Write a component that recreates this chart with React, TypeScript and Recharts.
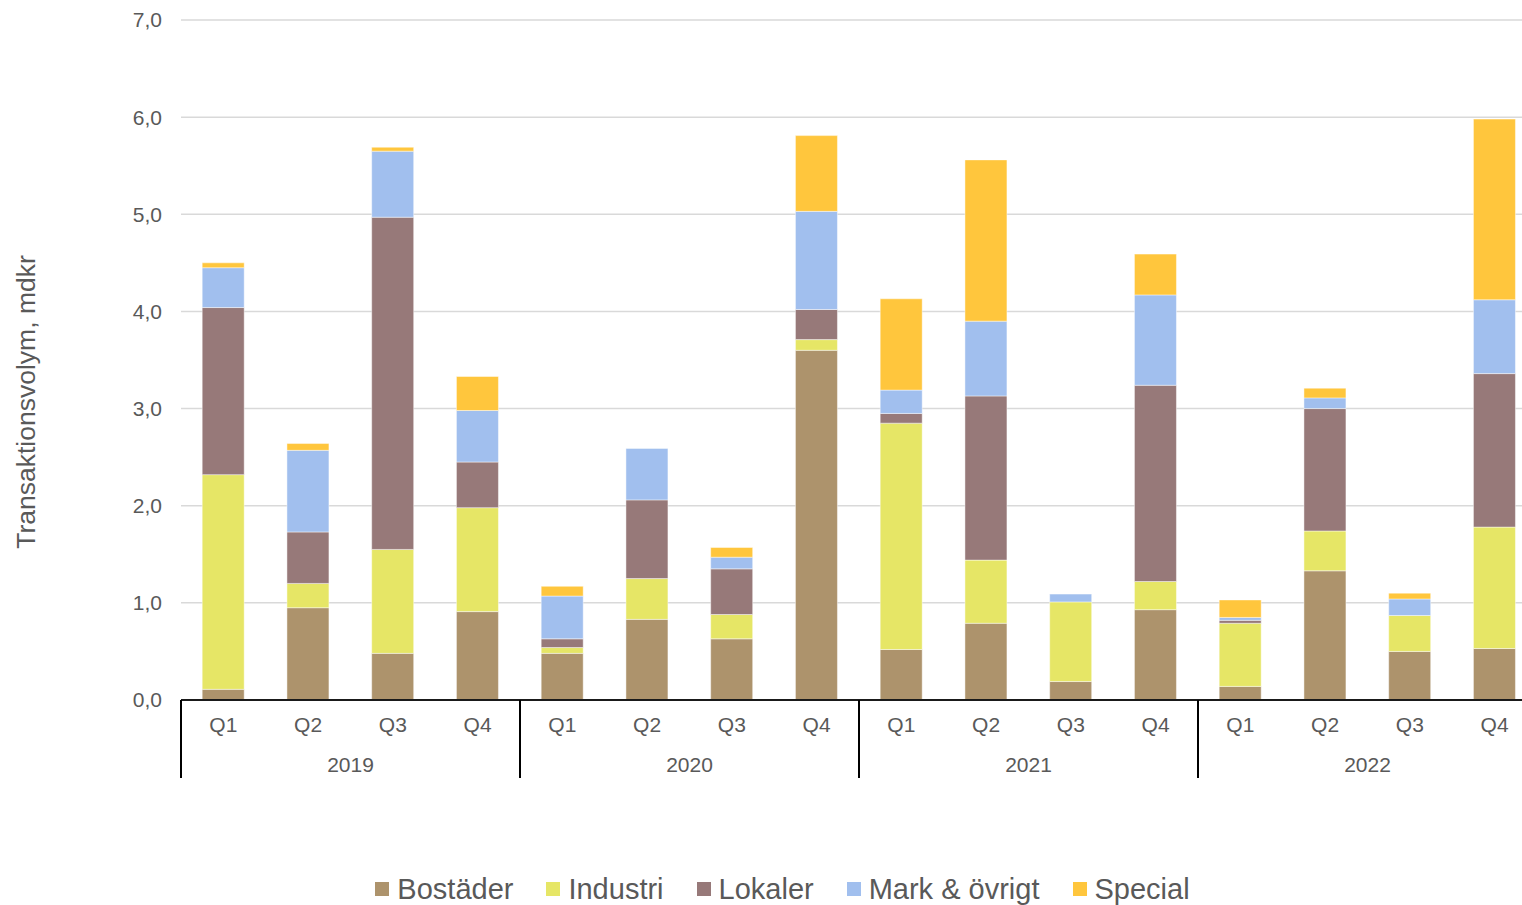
import { Bar, BarChart, CartesianGrid, Legend, XAxis, YAxis } from 'recharts';

if (typeof document !== 'undefined') {
  document.body.style.margin = '0';
}

const years = ['2019', '2020', '2021', '2022'];
const quarters = ['Q1', 'Q2', 'Q3', 'Q4'];

// Transaction volume per quarter, bn SEK, 2019 Q1 .. 2022 Q4
const bostader = [0.11, 0.95, 0.48, 0.91, 0.48, 0.83, 0.63, 3.6, 0.52, 0.79, 0.19, 0.93, 0.14, 1.33, 0.5, 0.53];
const industri = [2.21, 0.25, 1.07, 1.07, 0.06, 0.42, 0.25, 0.11, 2.33, 0.65, 0.82, 0.29, 0.65, 0.41, 0.37, 1.25];
const lokaler = [1.72, 0.53, 3.42, 0.47, 0.09, 0.81, 0.47, 0.31, 0.1, 1.69, 0, 2.02, 0.03, 1.26, 0, 1.58];
const mark = [0.41, 0.84, 0.68, 0.53, 0.44, 0.53, 0.12, 1.01, 0.24, 0.77, 0.08, 0.93, 0.03, 0.11, 0.17, 0.76];
const special = [0.05, 0.07, 0.04, 0.35, 0.1, 0, 0.1, 0.78, 0.94, 1.66, 0, 0.42, 0.18, 0.1, 0.06, 1.86];

const yTicks = [0, 1, 2, 3, 4, 5, 6, 7];

const series = [
  { key: 'bostader', name: 'Bostäder', color: '#AD936C', values: bostader },
  { key: 'industri', name: 'Industri', color: '#E6E666', values: industri },
  { key: 'lokaler', name: 'Lokaler', color: '#977979', values: lokaler },
  { key: 'mark', name: 'Mark & övrigt', color: '#A1BFEE', values: mark },
  { key: 'special', name: 'Special', color: '#FFC63D', values: special },
];

const data = years.flatMap((year, yi) =>
  quarters.map((quarter, qi) => {
    const i = yi * 4 + qi;
    const row: Record<string, string | number> = { id: `${year} ${quarter}`, year, quarter };
    series.forEach(s => {
      row[s.key] = s.values[i];
    });
    return row;
  }),
);

const CHART_WIDTH = 1540;
const CHART_HEIGHT = 905;
const MARGIN = { top: 20, right: 3, bottom: 125, left: 0 };
const Y_AXIS_WIDTH = 181;
const SLOT = (CHART_WIDTH - MARGIN.left - MARGIN.right - Y_AXIS_WIDTH) / data.length;
const FONT = '"Liberation Sans", Arial, sans-serif';
const TEXT_COLOR = '#595959';

function QuarterTick(props: any) {
  const { x, y, index } = props;
  const row = data[index];
  const first = index % 4 === 0;
  const last = index === data.length - 1;
  return (
    <g>
      <text x={x} y={y + 32} textAnchor="middle" fontSize={21} fill={TEXT_COLOR} fontFamily={FONT}>
        {row.quarter}
      </text>
      {index % 4 === 1 && (
        <text x={x + SLOT / 2} y={y + 72} textAnchor="middle" fontSize={21} fill={TEXT_COLOR} fontFamily={FONT}>
          {row.year}
        </text>
      )}
      {first && <line x1={x - SLOT / 2} x2={x - SLOT / 2} y1={y} y2={y + 78} stroke="#000" strokeWidth={2} />}
      {last && <line x1={x + SLOT / 2} x2={x + SLOT / 2} y1={y} y2={y + 78} stroke="#000" strokeWidth={2} />}
    </g>
  );
}

function AxisTitle(props: any) {
  const { viewBox } = props;
  const cx = viewBox.x + 26;
  const cy = viewBox.y + 382;
  return (
    <text
      x={cx}
      y={cy}
      transform={`rotate(-90 ${cx} ${cy})`}
      textAnchor="middle"
      dominantBaseline="central"
      fontSize={26.5}
      fill={TEXT_COLOR}
      fontFamily={FONT}
    >
      Transaktionsvolym, mdkr
    </text>
  );
}

function LegendContent() {
  return (
    <div style={{ display: 'flex', justifyContent: 'center', gap: 33, fontFamily: FONT }}>
      {series.map(s => (
        <div key={s.key} style={{ display: 'flex', alignItems: 'center', gap: 8 }}>
          <span style={{ width: 14, height: 14, background: s.color, display: 'inline-block' }} />
          <span style={{ fontSize: 29, color: TEXT_COLOR, lineHeight: '34px' }}>{s.name}</span>
        </div>
      ))}
    </div>
  );
}

export default function App() {
  return (
    <div style={{ width: 1522, height: 905, overflow: 'hidden', background: '#fff' }}>
      <BarChart width={CHART_WIDTH} height={CHART_HEIGHT} data={data} margin={MARGIN} barCategoryGap="25%">
        <CartesianGrid vertical={false} stroke="#d9d9d9" strokeWidth={1.5} />
        <XAxis
          dataKey="id"
          interval={0}
          tick={<QuarterTick />}
          tickLine={false}
          tickSize={0}
          tickMargin={0}
          height={80}
          axisLine={{ stroke: '#1a1a1a', strokeWidth: 2 }}
        />
        <YAxis
          width={Y_AXIS_WIDTH}
          domain={[0, 7]}
          ticks={yTicks}
          interval={0}
          axisLine={false}
          tickLine={false}
          tickSize={0}
          tickMargin={19}
          tickFormatter={(v: number) => v.toFixed(1).replace('.', ',')}
          tick={{ fontSize: 21, fill: TEXT_COLOR, fontFamily: FONT }}
          label={<AxisTitle />}
        />
        <Legend
          content={<LegendContent />}
          layout="horizontal"
          verticalAlign="middle"
          align="center"
          wrapperStyle={{ top: 872, left: 0, width: 1565 }}
        />
        {series.map(s => (
          <Bar
            key={s.key}
            dataKey={s.key}
            name={s.name}
            stackId="total"
            fill={s.color}
            stroke="#ffffff"
            strokeOpacity={0.6}
            strokeWidth={0.75}
            isAnimationActive={false}
          />
        ))}
      </BarChart>
    </div>
  );
}
